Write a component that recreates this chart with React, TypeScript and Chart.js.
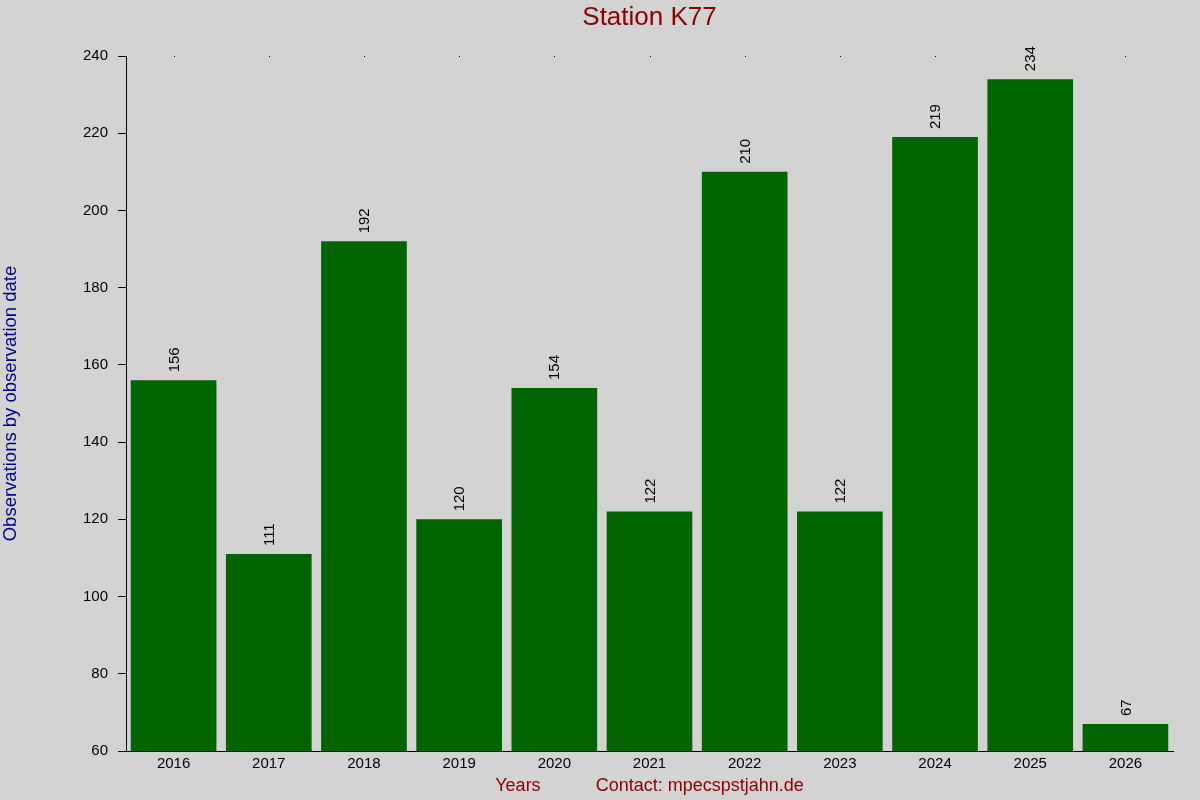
import React, { useEffect, useRef } from 'react';
import Chart from 'chart.js/auto';

const years: string[] = ['2016', '2017', '2018', '2019', '2020', '2021', '2022', '2023', '2024', '2025', '2026'];
const observations: number[] = [156, 111, 192, 120, 154, 122, 210, 122, 219, 234, 67];
const yMin = 60;
const yMax = 240;
const yStep = 20;
const chartTitle = 'Station K77';

const FONT = "'Liberation Sans', Arial, sans-serif";

// paints the grey page behind everything
const backgroundPlugin = {
    id: 'bgFill',
    beforeDraw: (chart: Chart) => {
        const ctx = chart.ctx;
        ctx.save();
        ctx.fillStyle = '#d3d3d3';
        ctx.fillRect(0, 0, chart.width, chart.height);
        ctx.restore();
    }
};

// title centred over the plot area, not the whole canvas
const plotTitlePlugin = {
    id: 'plotTitle',
    afterDraw: (chart: Chart) => {
        const ctx = chart.ctx;
        const { left, right } = chart.chartArea;
        ctx.save();
        ctx.fillStyle = '#8b0000';
        ctx.font = `26px ${FONT}`;
        ctx.textAlign = 'center';
        ctx.textBaseline = 'middle';
        ctx.fillText(chartTitle, (left + right) / 2, 18);
        ctx.restore();
    }
};

// rotated value labels above each bar + the small dots along the top edge
const valueLabelPlugin = {
    id: 'valueLabels',
    afterDatasetsDraw: (chart: Chart) => {
        const ctx = chart.ctx;
        const meta = chart.getDatasetMeta(0);
        const xScale = chart.scales.x;
        ctx.save();
        ctx.fillStyle = '#000000';
        ctx.font = `15px ${FONT}`;
        ctx.textAlign = 'left';
        ctx.textBaseline = 'middle';
        meta.data.forEach((bar: any, i: number) => {
            ctx.save();
            ctx.translate(bar.x + 1, bar.y - 8);
            ctx.rotate(-Math.PI / 2);
            ctx.fillText(String(observations[i]), 0, 0);
            ctx.restore();
        });
        for (let i = 0; i < years.length; i++) {
            const x = Math.round(xScale.getPixelForTick(i));
            ctx.fillRect(x, Math.round(chart.chartArea.top), 1, 1);
        }
        ctx.restore();
    }
};

const App: React.FC = () => {
    const chartRef = useRef<HTMLCanvasElement>(null);
    const chartInstance = useRef<Chart>();

    useEffect(() => {
        if (chartRef && chartRef.current) {
            const ctx = chartRef.current.getContext('2d');
            if (ctx) {
                if (chartInstance.current) {
                    chartInstance.current.destroy();
                }
                chartInstance.current = new Chart(ctx, {
                    type: 'bar',
                    data: {
                        labels: years,
                        datasets: [{
                            label: 'Observations',
                            data: observations,
                            backgroundColor: '#006400',
                            borderWidth: 0,
                            barPercentage: 0.9,
                            categoryPercentage: 1.0
                        }]
                    },
                    options: {
                        responsive: false,
                        animation: false,
                        devicePixelRatio: 1,
                        layout: { padding: { left: 0, right: 27, top: 56, bottom: 0 } },
                        plugins: {
                            legend: { display: false },
                            tooltip: { enabled: false },
                            title: { display: false }
                        },
                        scales: {
                            x: {
                                grid: { display: false, drawTicks: false },
                                border: { display: true, color: '#000000', width: 1 },
                                ticks: {
                                    color: '#000000',
                                    font: { family: FONT, size: 15 },
                                    padding: 4,
                                    maxRotation: 0
                                },
                                title: {
                                    display: true,
                                    text: 'Years           Contact: mpecspstjahn.de',
                                    color: '#8b0000',
                                    font: { family: FONT, size: 18 },
                                    padding: { top: 0, bottom: 3 }
                                },
                                afterFit: (scale: any) => { scale.height = 49; }
                            },
                            y: {
                                min: yMin,
                                max: yMax,
                                grid: {
                                    drawOnChartArea: false,
                                    drawTicks: true,
                                    tickLength: 8,
                                    color: '#000000'
                                },
                                border: { display: true, color: '#000000', width: 1 },
                                ticks: {
                                    stepSize: yStep,
                                    color: '#000000',
                                    font: { family: FONT, size: 15 },
                                    padding: 10
                                },
                                title: {
                                    display: true,
                                    text: 'Observations by observation date',
                                    color: '#00008b',
                                    font: { family: FONT, size: 18.5 },
                                    padding: { top: 0, bottom: 0 }
                                },
                                afterFit: (scale: any) => { scale.width = 126; }
                            }
                        }
                    },
                    plugins: [backgroundPlugin, valueLabelPlugin, plotTitlePlugin]
                });
            }
        }

        return () => {
            if (chartInstance.current) {
                chartInstance.current.destroy();
            }
        };
    }, []);

    return (
        <div style={{ position: 'absolute', left: 0, top: 0, width: 1200, height: 800, background: '#d3d3d3' }}>
            <canvas ref={chartRef} width={1200} height={800}></canvas>
        </div>
    );
};

export default App;
